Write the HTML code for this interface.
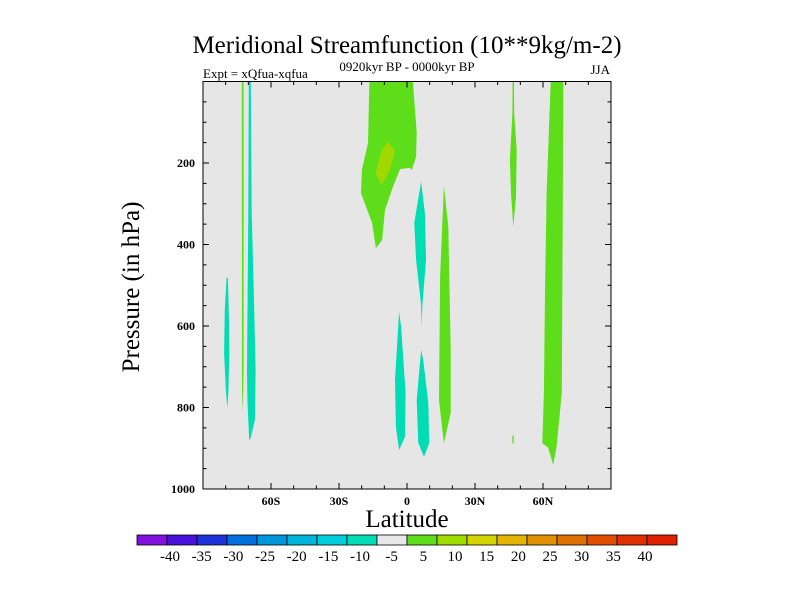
<!DOCTYPE html>
<html><head><meta charset="utf-8"><style>
html,body{margin:0;padding:0;background:#fff;}
svg{display:block;font-family:"Liberation Serif",serif;}
</style></head><body>
<svg id="chart" width="800" height="600" viewBox="0 0 800 600">
<text x="407" y="53" font-size="25" text-anchor="middle">Meridional Streamfunction (10**9kg/m-2)</text>
<text x="203" y="78" font-size="13">Expt = xQfua-xqfua</text>
<text x="407" y="71" font-size="13" text-anchor="middle">0920kyr BP - 0000kyr BP</text>
<text x="610" y="74" font-size="13" text-anchor="end">JJA</text>
<rect x="203" y="81.5" width="408" height="407.5" fill="#e6e6e6"/>
<g id="regions"></g>
<g id="axes"></g>
<text x="407" y="527" font-size="25" text-anchor="middle">Latitude</text>
<text transform="translate(139,287) rotate(-90)" font-size="25" text-anchor="middle">Pressure (in hPa)</text>
<g id="colorbar"></g>
</svg>
<script>
const xTicks = [-60, -30, 0, 30, 60];
const xTickLabels = ["60S", "30S", "0", "30N", "60N"];
const yTicks = [200, 400, 600, 800, 1000];
const cbLabels = [-40,-35,-30,-25,-20,-15,-10,-5,5,10,15,20,25,30,35,40];
const cbColors = ["#8410e0","#4a10dc","#1e32dc","#0070dc","#0096dc","#00b4dc","#00cedc","#00dcb4","#e8e8e8","#5ede1a","#a0dc00","#d4d400","#e4b400","#e09000","#e07000","#e05000","#e03000","#e02000"];
// contour regions: [lat, pressure] polygons with their level color
const regGreenMain = [[-16.6,0],[-17.2,151],[-19.9,217],[-20.3,274],[-15.4,347],[-13.7,409],[-11,389],[-9.7,315],[-6.2,259],[-3.1,215],[1.3,212],[2.1,217],[4,185],[4.3,126],[2.6,0]];
const regYellow = [[-11.2,168],[-8.2,148],[-5.3,172],[-7.5,217],[-11.2,254],[-13.8,225]];
const regGreenLeft = [[-72.9,0],[-72.1,0],[-72.1,700],[-72.4,810],[-72.8,760]];
const regCyanLeft = [[-69.8,0],[-68.9,0],[-68.5,323],[-67.5,536],[-66.8,708],[-67.1,831],[-69.0,875],[-69.6,880],[-70.4,782],[-70.6,708],[-70.0,323]];
const regCyanFar = [[-79.6,482],[-79.0,482],[-78.5,600],[-78.4,666],[-78.8,760],[-79.3,801],[-79.9,760],[-80.7,666],[-80.4,560]];
const regCyanUpper = [[6.2,246],[3.2,347],[4.0,438],[6.2,548],[6.5,603],[6.8,548],[8.4,438],[7.9,323]];
const regCyanLowL = [[-3.5,565],[-5.3,733],[-4.9,847],[-3.5,904],[-0.9,872],[-0.6,764],[-2.6,602]];
const regCyanLowR = [[6.2,659],[4.3,782],[5.0,887],[7.5,921],[9.8,887],[9.4,789],[7.2,684]];
const regGreen15N = [[16.3,256],[14.6,479],[14.1,782],[16.3,888],[19.3,813],[19.3,659],[18.2,356]];
const regGreen47N = [[46.6,0],[47.2,0],[47.3,77],[48.4,168],[48.1,283],[46.9,356],[45.9,274],[45.4,193],[46.5,77]];
const regGreen47Ns = [[46.5,869],[47.1,869],[47.1,888],[46.5,888]];
const regGreen60N = [[63.4,0],[61.6,274],[60.9,519],[60.4,764],[59.7,887],[62.3,899],[64.5,941],[66,896],[68.3,764],[68.7,356],[69,0]];

const NS="http://www.w3.org/2000/svg";
const X0=203,X1=611,Y0=81.5,Y1=489;
function xs(lat){return X0+(lat+90)/180*(X1-X0);}
function ys(p){return Y0+p/1000*(Y1-Y0);}
function mk(tag,attrs,parent){const e=document.createElementNS(NS,tag);for(const k in attrs)e.setAttribute(k,attrs[k]);parent.appendChild(e);return e;}
const G="#5ede1a",C="#00dcb4",Yl="#a0d800";
const regions=[[regGreenMain,G,"region-pos-5-10-tropics"],[regYellow,Yl,"region-pos-10-15"],[regGreenLeft,G,"region-pos-70s"],[regCyanLeft,C,"region-neg-68s"],[regCyanFar,C,"region-neg-80s"],[regCyanUpper,C,"region-neg-upper-6n"],[regCyanLowL,C,"region-neg-lower-3s"],[regCyanLowR,C,"region-neg-lower-7n"],[regGreen15N,G,"region-pos-15n"],[regGreen47N,G,"region-pos-47n"],[regGreen47Ns,G,"region-pos-47n-low"],[regGreen60N,G,"region-pos-60n"]];
const rg=document.getElementById("regions");
regions.forEach(r=>{
  const el=mk("polygon",{points:r[0].map(q=>xs(q[0]).toFixed(1)+","+ys(q[1]).toFixed(1)).join(" "),fill:r[1]},rg);
  
  
});
const ax=document.getElementById("axes");
const frame=mk("rect",{x:X0,y:Y0,width:X1-X0,height:Y1-Y0,fill:"none",stroke:"#000","stroke-width":1},ax);


for(let lat=-90;lat<=90;lat+=10){
  const L=(lat%30===0)?6:3.5,x=xs(lat);
  mk("line",{x1:x,y1:Y1,x2:x,y2:Y1-L,stroke:"#000"},ax);
  mk("line",{x1:x,y1:Y0,x2:x,y2:Y0+L,stroke:"#000"},ax);
}
xTicks.forEach((v,i)=>{
  const t=mk("text",{x:xs(v),y:505,"font-size":12,"font-weight":"bold","text-anchor":"middle"},ax);
  t.textContent=xTickLabels[i];
  
  
});
for(let p=50;p<=1000;p+=50){
  const L=(p%200===0)?6:3.5,y=ys(p);
  mk("line",{x1:X0,y1:y,x2:X0+L,y2:y,stroke:"#000"},ax);
  mk("line",{x1:X1,y1:y,x2:X1-L,y2:y,stroke:"#000"},ax);
}
yTicks.forEach(v=>{
  const t=mk("text",{x:195,y:ys(v)+4,"font-size":12,"font-weight":"bold","text-anchor":"end"},ax);
  t.textContent=v;
  
  
});
const cb=document.getElementById("colorbar");
const cbx=137,cbw=540/cbColors.length;
cbColors.forEach((c,i)=>{
  const r=mk("rect",{x:cbx+i*cbw,y:535,width:cbw,height:10,fill:c,stroke:"#000","stroke-width":0.8},cb);
  
  
});
const lblStep=(645-170)/(cbLabels.length-1);
cbLabels.forEach((v,i)=>{
  const t=mk("text",{x:170+i*lblStep,y:561,"font-size":15,"text-anchor":"middle"},cb);
  t.textContent=v;
  
  
});
</script>
</body></html>
